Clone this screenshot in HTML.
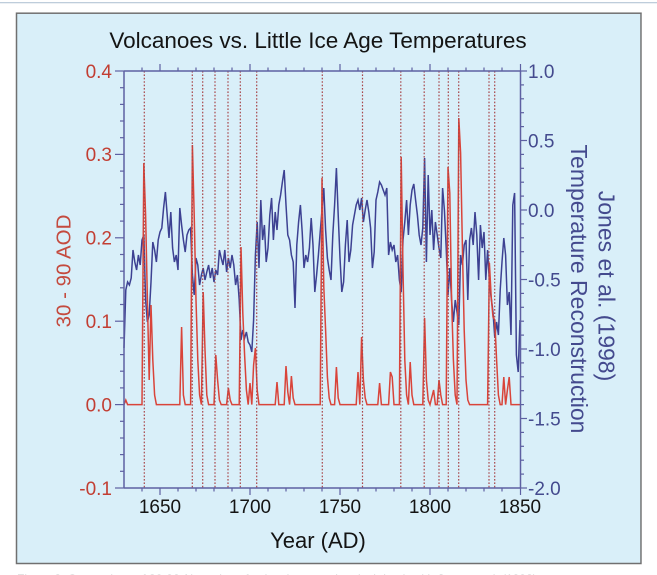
<!DOCTYPE html>
<html>
<head>
<meta charset="utf-8">
<style>
html,body{margin:0;padding:0;background:#fff;}
body{width:657px;height:575px;overflow:hidden;}
svg{display:block;font-family:"Liberation Sans",Arial,sans-serif;}
</style>
</head>
<body>
<svg width="657" height="575" viewBox="0 0 657 575" xmlns="http://www.w3.org/2000/svg">
  <rect x="0" y="0" width="657" height="575" fill="#ffffff"/>
  <line x1="0" y1="2.7" x2="657" y2="2.7" stroke="#b4c6d6" stroke-width="1.2"/>
  <!-- panel -->
  <rect x="16.5" y="13.2" width="624.5" height="550.3" fill="#d9eff9" stroke="#707070" stroke-width="1.5"/>
  <line x1="641.5" y1="14" x2="641.5" y2="564" stroke="#9a9a9a" stroke-width="1"/>

  <!-- caption (cut off) -->
  <text x="17" y="583" font-size="12" fill="#c4c4c4">Figure 2. Comparison of 30-90°N version of volcanic aerosol optical depth with Jones et al. (1998) temperature</text>

  <!-- title -->
  <text x="318" y="48" font-size="22.5" text-anchor="middle" fill="#141414">Volcanoes vs. Little Ice Age Temperatures</text>

  <!-- blue temperature series -->
  <g transform="translate(124,0) scale(1.8,1)">
    <polyline fill="none" stroke="#3d4192" stroke-width="1.5" stroke-linejoin="miter" vector-effect="non-scaling-stroke"
      points="0,348 1,290 2,282 3,285 4,278 5,250 6,262 7,270 8,255 9,265 10,240 11,235 12,300 13,322 14,315 15,282 16,242 17,250 18,262 19,240 20,232 21,228 22,208 23,192 24,215 25,238 26,212 27,248 28,262 29,255 30,270 31,208 32,225 33,240 34,252 35,235 36,230 37,228 38,275 39,295 40,258 41,265 42,285 43,275 44,268 45,280 46,272 47,265 48,278 49,268 50,282 51,270 52,275 53,250 54,258 55,265 56,250 57,272 58,258 59,268 60,255 61,265 62,285 63,275 64,300 65,340 66,330 67,338 68,332 69,342 70,345 71,352 72,320 73,255 74,222 75,268 76,200 77,240 78,225 79,262 80,248 81,215 82,198 83,240 84,212 85,230 86,205 87,195 88,182 89,170 90,205 91,235 92,240 93,255 94,262 95,308 96,245 97,222 98,205 99,232 100,268 101,255 102,262 103,248 104,218 105,245 106,292 107,275 108,255 109,232 110,210 111,188 112,230 113,258 114,270 115,280 116,235 117,205 118,168 119,215 120,258 121,292 122,282 123,245 124,220 125,262 126,250 127,225 128,215 129,205 130,200 131,210 132,198 133,222 134,210 135,200 136,212 137,228 138,268 139,252 140,200 141,192 142,182 143,185 144,190 145,195 146,188 147,255 148,242 149,250 150,245 151,262 152,255 153,280 154,292 155,240 156,222 157,200 158,235 159,205 160,190 161,184 162,200 163,215 164,235 165,245 166,228 167,158 168,262 169,175 170,235 171,210 172,250 173,222 174,235 175,248 176,258 177,188 178,210 179,248 180,295 181,268 182,300 183,322 184,300 185,312 186,325 187,255 188,265 189,245 190,240 191,300 192,240 193,228 194,245 195,212 196,235 197,280 198,225 199,248 200,232 201,280 202,250 203,282 204,298 205,312 206,338 207,322 208,335 209,290 210,262 211,238 212,255 213,305 214,292 215,335 216,205 217,193 218,355 219,372 220,320"/>
  </g>

  <!-- red AOD series -->
  <g transform="translate(124,0) scale(1.8,1)">
    <polyline fill="none" stroke="#d9443a" stroke-width="1.5" vector-effect="non-scaling-stroke"
      points="0,404.6 1,400 2,404.6 10,404.6 11,163 12,215 13,300 14,380 15,305 16,360 17,395 18,404.6 31,404.6 32,327 33,395 34,404.6 37,404.6 38,145 39,215 40,300 41,360 42,395 43,404.6 44,292 45,350 46,395 47,404.6 50,404.6 51,355 52,380 53,400 54,404.6 57,404.6 58,388 59,400 60,404.6 64,404.6 65,247 66,313 67,355 68,390 69,404.6 70,383 71,404.6 72,365 73,348 74,390 75,404.6 84,404.6 85,382 86,404.6 89,404.6 90,366 91,392 92,404.6 93,376 94,398 95,404.6 109,404.6 110,178 111,287 112,330 113,377 114,398 115,404.6 117,404.6 118,367 119,398 120,404.6 129,404.6 130,372 131,404.6 132,337 133,380 134,398 135,404.6 141,404.6 142,383 143,404.6 147,404.6 148,372 149,377 150,404.6 153,404.6 154,157 155,270 156,360 157,395 158,404.6 159,362 160,395 161,404.6 166,404.6 167,318 168,380 169,400 170,404.6 172,390 173,404.6 174,404.6 175,380 176,395 177,404.6 179,404.6 180,167 181,193 182,300 183,360 184,395 185,404.6 186,118 187,153 188,247 189,330 190,380 191,400 192,404.6 202,404.6 203,263 204,297 205,317 206,320 207,360 208,395 209,404.6 210,404.6 211,377 212,404.6 213,390 214,377 215,404.6 220,404.6"/>
  </g>

  <!-- dotted volcano lines -->
  <g stroke="#a8464a" stroke-width="1.2" stroke-dasharray="1.6,1.8">
    <line x1="144.3" y1="71" x2="144.3" y2="488"/>
    <line x1="192.3" y1="71" x2="192.3" y2="488"/>
    <line x1="202.7" y1="71" x2="202.7" y2="488"/>
    <line x1="215" y1="71" x2="215" y2="488"/>
    <line x1="228" y1="71" x2="228" y2="488"/>
    <line x1="240.3" y1="71" x2="240.3" y2="488"/>
    <line x1="256.7" y1="71" x2="256.7" y2="488"/>
    <line x1="322.3" y1="71" x2="322.3" y2="488"/>
    <line x1="362.5" y1="71" x2="362.5" y2="488"/>
    <line x1="400.8" y1="71" x2="400.8" y2="488"/>
    <line x1="424.2" y1="71" x2="424.2" y2="488"/>
    <line x1="439" y1="71" x2="439" y2="488"/>
    <line x1="448.3" y1="71" x2="448.3" y2="488"/>
    <line x1="458.7" y1="71" x2="458.7" y2="488"/>
    <line x1="489" y1="71" x2="489" y2="488"/>
    <line x1="494.7" y1="71" x2="494.7" y2="488"/>
  </g>

  <!-- axes frame -->
  <g stroke="#5e60a2" stroke-width="1.5" fill="none">
    <line x1="124" y1="71" x2="520.5" y2="71"/>
    <line x1="124" y1="488" x2="520.5" y2="488"/>
    <line x1="124" y1="71" x2="124" y2="488"/>
    <line x1="520.5" y1="71" x2="520.5" y2="488"/>
  </g>

  <!-- left ticks -->
  <g stroke="#5e60a2" stroke-width="1.2">
    <line x1="115" y1="71" x2="124" y2="71"/>
    <line x1="115" y1="154.4" x2="124" y2="154.4"/>
    <line x1="115" y1="237.8" x2="124" y2="237.8"/>
    <line x1="115" y1="321.2" x2="124" y2="321.2"/>
    <line x1="115" y1="404.6" x2="124" y2="404.6"/>
    <line x1="115" y1="488" x2="124" y2="488"/>
    <line x1="120" y1="87.7" x2="124" y2="87.7"/>
    <line x1="120" y1="104.4" x2="124" y2="104.4"/>
    <line x1="120" y1="121" x2="124" y2="121"/>
    <line x1="120" y1="137.7" x2="124" y2="137.7"/>
    <line x1="120" y1="171.1" x2="124" y2="171.1"/>
    <line x1="120" y1="187.8" x2="124" y2="187.8"/>
    <line x1="120" y1="204.4" x2="124" y2="204.4"/>
    <line x1="120" y1="221.1" x2="124" y2="221.1"/>
    <line x1="120" y1="254.5" x2="124" y2="254.5"/>
    <line x1="120" y1="271.2" x2="124" y2="271.2"/>
    <line x1="120" y1="287.8" x2="124" y2="287.8"/>
    <line x1="120" y1="304.5" x2="124" y2="304.5"/>
    <line x1="120" y1="337.9" x2="124" y2="337.9"/>
    <line x1="120" y1="354.6" x2="124" y2="354.6"/>
    <line x1="120" y1="371.2" x2="124" y2="371.2"/>
    <line x1="120" y1="387.9" x2="124" y2="387.9"/>
    <line x1="120" y1="421.3" x2="124" y2="421.3"/>
    <line x1="120" y1="438" x2="124" y2="438"/>
    <line x1="120" y1="454.6" x2="124" y2="454.6"/>
    <line x1="120" y1="471.3" x2="124" y2="471.3"/>
  </g>

  <!-- right ticks -->
  <g stroke="#5e60a2" stroke-width="1.2">
    <line x1="520.5" y1="71" x2="527" y2="71"/>
    <line x1="520.5" y1="140.5" x2="527" y2="140.5"/>
    <line x1="520.5" y1="210" x2="527" y2="210"/>
    <line x1="520.5" y1="279.5" x2="527" y2="279.5"/>
    <line x1="520.5" y1="349" x2="527" y2="349"/>
    <line x1="520.5" y1="418.5" x2="527" y2="418.5"/>
    <line x1="520.5" y1="488" x2="527" y2="488"/>
    <line x1="520.5" y1="84.9" x2="524" y2="84.9"/>
    <line x1="520.5" y1="98.8" x2="524" y2="98.8"/>
    <line x1="520.5" y1="112.7" x2="524" y2="112.7"/>
    <line x1="520.5" y1="126.6" x2="524" y2="126.6"/>
    <line x1="520.5" y1="154.4" x2="524" y2="154.4"/>
    <line x1="520.5" y1="168.3" x2="524" y2="168.3"/>
    <line x1="520.5" y1="182.2" x2="524" y2="182.2"/>
    <line x1="520.5" y1="196.1" x2="524" y2="196.1"/>
    <line x1="520.5" y1="223.9" x2="524" y2="223.9"/>
    <line x1="520.5" y1="237.8" x2="524" y2="237.8"/>
    <line x1="520.5" y1="251.7" x2="524" y2="251.7"/>
    <line x1="520.5" y1="265.6" x2="524" y2="265.6"/>
    <line x1="520.5" y1="293.4" x2="524" y2="293.4"/>
    <line x1="520.5" y1="307.3" x2="524" y2="307.3"/>
    <line x1="520.5" y1="321.2" x2="524" y2="321.2"/>
    <line x1="520.5" y1="335.1" x2="524" y2="335.1"/>
    <line x1="520.5" y1="362.9" x2="524" y2="362.9"/>
    <line x1="520.5" y1="376.8" x2="524" y2="376.8"/>
    <line x1="520.5" y1="390.7" x2="524" y2="390.7"/>
    <line x1="520.5" y1="404.6" x2="524" y2="404.6"/>
    <line x1="520.5" y1="432.4" x2="524" y2="432.4"/>
    <line x1="520.5" y1="446.3" x2="524" y2="446.3"/>
    <line x1="520.5" y1="460.2" x2="524" y2="460.2"/>
    <line x1="520.5" y1="474.1" x2="524" y2="474.1"/>
  </g>

  <!-- top & bottom ticks -->
  <g stroke="#5e60a2" stroke-width="1.2">
    <!-- majors -->
    <line x1="160" y1="64" x2="160" y2="71"/><line x1="160" y1="488" x2="160" y2="495"/>
    <line x1="250" y1="64" x2="250" y2="71"/><line x1="250" y1="488" x2="250" y2="495"/>
    <line x1="340" y1="64" x2="340" y2="71"/><line x1="340" y1="488" x2="340" y2="495"/>
    <line x1="430" y1="64" x2="430" y2="71"/><line x1="430" y1="488" x2="430" y2="495"/>
    <line x1="520.5" y1="64" x2="520.5" y2="71"/><line x1="520.5" y1="488" x2="520.5" y2="495"/>
    <!-- minors -->
    <line x1="142" y1="67.5" x2="142" y2="71"/><line x1="142" y1="488" x2="142" y2="491.5"/>
    <line x1="178" y1="67.5" x2="178" y2="71"/><line x1="178" y1="488" x2="178" y2="491.5"/>
    <line x1="196" y1="67.5" x2="196" y2="71"/><line x1="196" y1="488" x2="196" y2="491.5"/>
    <line x1="214" y1="67.5" x2="214" y2="71"/><line x1="214" y1="488" x2="214" y2="491.5"/>
    <line x1="232" y1="67.5" x2="232" y2="71"/><line x1="232" y1="488" x2="232" y2="491.5"/>
    <line x1="268" y1="67.5" x2="268" y2="71"/><line x1="268" y1="488" x2="268" y2="491.5"/>
    <line x1="286" y1="67.5" x2="286" y2="71"/><line x1="286" y1="488" x2="286" y2="491.5"/>
    <line x1="304" y1="67.5" x2="304" y2="71"/><line x1="304" y1="488" x2="304" y2="491.5"/>
    <line x1="322" y1="67.5" x2="322" y2="71"/><line x1="322" y1="488" x2="322" y2="491.5"/>
    <line x1="358" y1="67.5" x2="358" y2="71"/><line x1="358" y1="488" x2="358" y2="491.5"/>
    <line x1="376" y1="67.5" x2="376" y2="71"/><line x1="376" y1="488" x2="376" y2="491.5"/>
    <line x1="394" y1="67.5" x2="394" y2="71"/><line x1="394" y1="488" x2="394" y2="491.5"/>
    <line x1="412" y1="67.5" x2="412" y2="71"/><line x1="412" y1="488" x2="412" y2="491.5"/>
    <line x1="448" y1="67.5" x2="448" y2="71"/><line x1="448" y1="488" x2="448" y2="491.5"/>
    <line x1="466" y1="67.5" x2="466" y2="71"/><line x1="466" y1="488" x2="466" y2="491.5"/>
    <line x1="484" y1="67.5" x2="484" y2="71"/><line x1="484" y1="488" x2="484" y2="491.5"/>
    <line x1="502" y1="67.5" x2="502" y2="71"/><line x1="502" y1="488" x2="502" y2="491.5"/>
  </g>

  <!-- left tick labels -->
  <g font-size="19" fill="#c23e33" text-anchor="end">
    <text x="112" y="77.8">0.4</text>
    <text x="112" y="161.2">0.3</text>
    <text x="112" y="244.6">0.2</text>
    <text x="112" y="328">0.1</text>
    <text x="112" y="411.4">0.0</text>
    <text x="112" y="494.8">-0.1</text>
  </g>

  <!-- right tick labels -->
  <g font-size="19" fill="#444a8e">
    <text x="528" y="77.8">1.0</text>
    <text x="528" y="147.3">0.5</text>
    <text x="528" y="216.8">0.0</text>
    <text x="528" y="286.3">-0.5</text>
    <text x="528" y="355.8">-1.0</text>
    <text x="528" y="425.3">-1.5</text>
    <text x="528" y="494.8">-2.0</text>
  </g>

  <!-- x tick labels -->
  <g font-size="19" fill="#141414" text-anchor="middle">
    <text x="160" y="513">1650</text>
    <text x="250" y="513">1700</text>
    <text x="340" y="513">1750</text>
    <text x="430" y="513">1800</text>
    <text x="520" y="513">1850</text>
  </g>

  <!-- x axis title -->
  <text x="318" y="548" font-size="22" text-anchor="middle" fill="#141414">Year (AD)</text>

  <!-- left axis title -->
  <text transform="translate(70.5,271) rotate(-90)" font-size="20.5" text-anchor="middle" fill="#c44a3e">30 - 90 AOD</text>

  <!-- right axis titles -->
  <text transform="translate(598.5,286) rotate(90)" font-size="23" text-anchor="middle" fill="#444a8e">Jones et al. (1998)</text>
  <text transform="translate(571,289) rotate(90)" font-size="23" text-anchor="middle" fill="#444a8e">Temperature Reconstruction</text>
</svg>
</body>
</html>
